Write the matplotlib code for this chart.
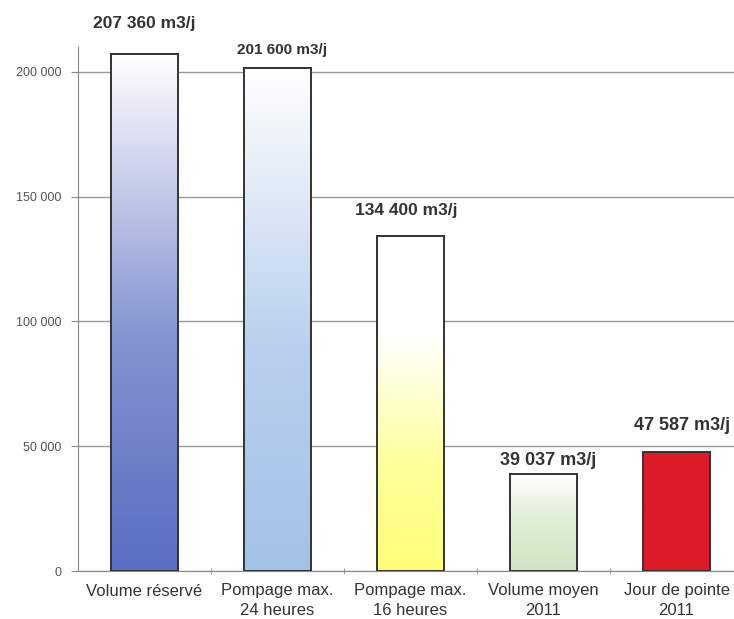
import numpy as np
import matplotlib
matplotlib.use("Agg")
import matplotlib.pyplot as plt
from matplotlib.colors import LinearSegmentedColormap, to_rgb
from matplotlib.ticker import FuncFormatter

categories = ["Volume réservé", "Pompage max.\n24 heures", "Pompage max.\n16 heures",
              "Volume moyen\n2011", "Jour de pointe\n2011"]
values = [207360, 201600, 134400, 39037, 47587]
value_labels = ["207 360 m3/j", "201 600 m3/j", "134 400 m3/j", "39 037 m3/j", "47 587 m3/j"]
yticks = [0, 50000, 100000, 150000, 200000]

# per-bar fill: bottom colour and the height fraction where it has faded to white
bottom_colors = ["#5a6ec2", "#a3c1e8", "#ffff7a", "#cfe6c4", "#de1b29"]
white_at = [1.0, 1.0, 0.7, 1.0, None]
label_offsets = [21.5, 13, 18, 9.5, 19.5]  # points above bar top (label centre)
label_dx = [0, 3, -3, 3.6, 4.3]  # horizontal nudges in points
label_sizes = [12.5, 11, 12.5, 13, 13]

plt.rcParams["font.family"] = ["Liberation Sans", "DejaVu Sans"]

fig = plt.figure(figsize=(7.34, 6.19), dpi=100)
ax = fig.add_axes([78 / 734, 48 / 619, 665 / 734, 524 / 619])

x = np.arange(len(values))
bars = ax.bar(x, values, width=0.5, facecolor="none", edgecolor="#333333",
              linewidth=1.4, zorder=3)

for bar, cbot, wa in zip(bars, bottom_colors, white_at):
    c = np.array(to_rgb(cbot))
    if wa is None:
        cmap = LinearSegmentedColormap.from_list("g", [c, c])
    else:
        mid = c * 0.75 + 0.25
        stops = [(0, c), (0.45 * wa, mid), (wa, (1, 1, 1))]
        if wa < 1:
            stops.append((1.0, (1, 1, 1)))
        cmap = LinearSegmentedColormap.from_list("g", stops)
    x0, y0 = bar.get_x(), bar.get_y()
    w, h = bar.get_width(), bar.get_height()
    grad = np.linspace(0, 1, 256).reshape(-1, 1)
    im = ax.imshow(grad, cmap=cmap, origin="lower", aspect="auto",
                   extent=[x0, x0 + w, y0, y0 + h], zorder=2, interpolation="bilinear")
    im.set_clip_path(bar)

for xi, v, lab, off, dx, fs in zip(x, values, value_labels, label_offsets, label_dx, label_sizes):
    ax.annotate(lab, (xi, v), xytext=(dx, off), textcoords="offset points",
                ha="center", va="center", fontsize=fs, fontweight="bold", color="#333333")

ax.set_xlim(-0.5, len(values) - 0.5)
ax.set_ylim(0, 210000)
ax.set_yticks(yticks)
ax.yaxis.set_major_formatter(FuncFormatter(lambda v, p: f"{int(v):,}".replace(",", " ")))
ax.set_xticks(x)
ax.set_xticklabels(categories, fontsize=12, color="#333333", linespacing=1.35)
ax.set_xticks(np.arange(0.5, len(values) - 0.5, 1), minor=True)
ax.tick_params(axis="x", which="major", length=0, pad=9)
ax.tick_params(axis="x", which="minor", length=5, color="#888888", direction="inout")
ax.tick_params(axis="y", length=5, color="#888888", labelsize=9, labelcolor="#555555", pad=7)

ax.yaxis.grid(True, color="#999999", linewidth=1.0)
ax.set_axisbelow(True)
for s in ["top", "right"]:
    ax.spines[s].set_visible(False)
ax.spines["left"].set_color("#888888")
ax.spines["bottom"].set_color("#888888")

fig.savefig("out.png", dpi=100)
